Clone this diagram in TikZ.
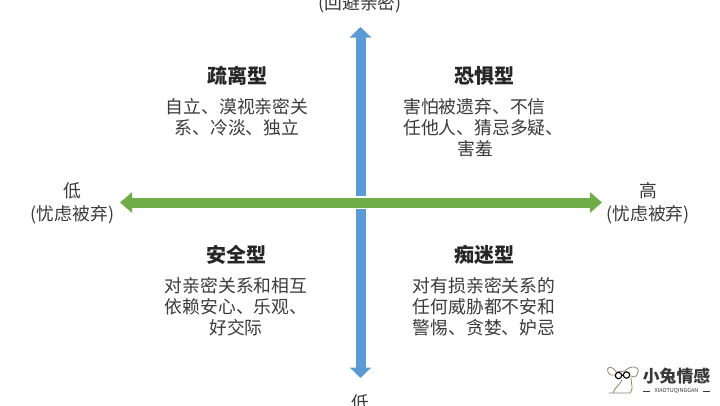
\documentclass[tikz,border=0pt]{standalone}
\usepackage{fontspec}
\setmainfont{Noto Sans CJK SC}
\usetikzlibrary{arrows.meta}
\definecolor{ink}{HTML}{3A3A3A}
\definecolor{inkdark}{HTML}{262626}
\definecolor{barblue}{HTML}{5B9BD5}
\definecolor{bargreen}{HTML}{70AD47}
\definecolor{mascot}{HTML}{8A8570}
\tikzset{
  x=1pt,y=-1pt,
  title/.style={font=\fontsize{20}{24}\bfseries\selectfont,text=inkdark,inner sep=0pt},
  body/.style={font=\fontsize{17.8}{21}\selectfont,text=ink,inner sep=0pt},
  vbar/.style={line width=10pt,draw=barblue,-{Triangle[length=10.5pt,width=21pt]}},
  hbar/.style={line width=10pt,draw=bargreen,{Triangle[length=12pt,width=20pt]}-{Triangle[length=12pt,width=20pt]}},
  gapbar/.style={line width=13pt,draw=white},
  mascotline/.style={draw=mascot,line width=.8pt,line cap=round,line join=round}
}
\begin{document}
\begin{tikzpicture}
\useasboundingbox (0,0) rectangle (720,405);
\fill[white] (0,0) rectangle (720,405);
\coordinate (ctop) at (360.5,27);
\coordinate (cbot) at (360.5,378);
\coordinate (cmid) at (360.5,202);
\coordinate (cleft) at (120,202.5);
\coordinate (cright) at (602,202.5);
\draw[vbar] (cmid) -- (ctop);
\draw[vbar] (cmid) -- (cbot);
\draw[gapbar] (355,202.5) -- (366,202.5);
\draw[hbar] (cleft) -- (cright);
\node[body] (topl) at (360,4) {(回避亲密)};
\node[body] (botl) at (360,403) {低};
\node[body,align=center,font=\fontsize{17.8}{23}\selectfont] (leftl) at (72.5,203.5) {低\\(忧虑被弃)};
\node[body,align=center,font=\fontsize{17.8}{23}\selectfont] (rightl) at (648,203.5) {高\\(忧虑被弃)};
\node[title] (t1) at (237,76) {疏离型};
\node[title] (t2) at (484,76) {恐惧型};
\node[title] (t3) at (236,255) {安全型};
\node[title] (t4) at (484,255) {痴迷型};
\node[body,align=center] (b1) at (237,117) {自立、漠视亲密关\\系、冷淡、独立};
\node[body,align=left,anchor=west] (b2) at (403,128) {害怕被遗弃、不信\\任他人、猜忌多疑、\\\hspace{54pt}害羞};
\node[body,align=center] (b3) at (236,307) {对亲密关系和相互\\依赖安心、乐观、\\好交际};
\node[body,align=center] (b4) at (484,307) {对有损亲密关系的\\任何威胁都不安和\\警惕、贪婪、妒忌};
% logo
\draw[mascotline] (616,372) .. controls (612,365) and (606,366) .. (608,372) .. controls (609,375) and (612,376) .. (614,375);
\draw[mascotline] (625,371) .. controls (630,365) and (640,366) .. (638,372) .. controls (637,377) and (634,378) .. (631,376);
\draw[mascotline] (616,372) -- (625,371);
\draw[mascotline] (631,378) .. controls (631,384) and (634,389) .. (630,393) -- (609,393);
\draw[mascotline] (622,380) .. controls (620,385) and (614,388) .. (613,393);
\draw[black,line width=1.1pt] (618.5,375.5) circle (3.2) (626.5,375) circle (3.2) (621.7,375.3) -- (623.3,375.2);
\node[font=\fontsize{16.8}{20}\bfseries\selectfont,text=ink,inner sep=0pt] (logo) at (676.5,376.5) {小兔情感};
\node[font=\fontsize{5.5}{6}\selectfont,text=ink,inner sep=0pt] (logosub) at (676.5,391) {XIAOTUQINGGAN};
\draw[ink,line width=.6pt] (643,391) -- (650,391) (703,391) -- (710,391);
\end{tikzpicture}
\end{document}
